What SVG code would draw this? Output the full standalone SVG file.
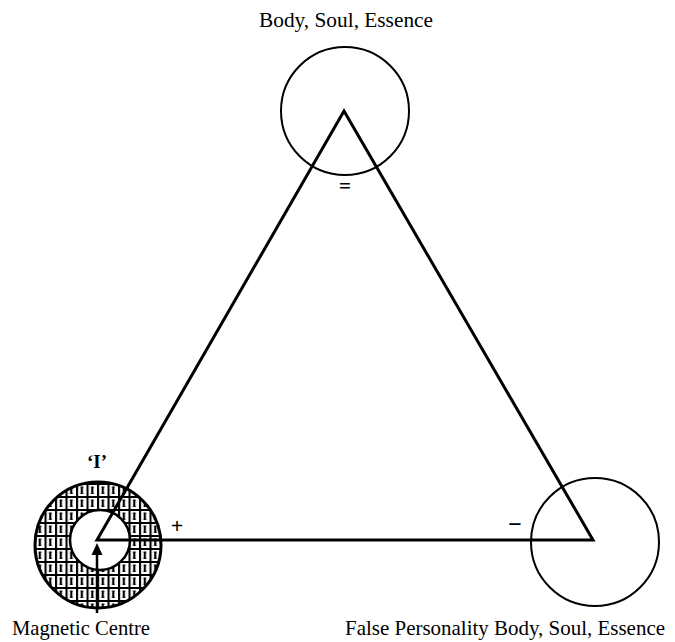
<svg xmlns="http://www.w3.org/2000/svg" width="675" height="642" viewBox="0 0 675 642">
<style>
.lbl{font-family:"Liberation Serif","Times New Roman",serif;font-size:21px;fill:#000}
.sym{font-family:"Liberation Serif","Times New Roman",serif;fill:#000;text-anchor:middle;font-weight:bold}
.circ{fill:none;stroke:#000;stroke-width:2}
.edge{stroke:#000;stroke-width:3;fill:none;stroke-linecap:round}
</style>
<defs>
<pattern id="hatch" patternUnits="userSpaceOnUse" x="34" y="483" width="10.5" height="13">
<rect width="10.5" height="13" fill="#fff"/>
<path d="M1 0V13M0 1H10.5" stroke="#000" stroke-width="2.2"/>
<path d="M5.8 4V10.5" stroke="#000" stroke-width="2.2"/>
<path d="M4.5 4.2H7.2M4.5 10.3H7.2" stroke="#000" stroke-width="1.2"/>
</pattern>
</defs>
<rect width="675" height="642" fill="#fff"/>

<g id="top-node">
<circle class="circ" cx="345" cy="111" r="64"/>
<text class="sym" x="345" y="193" font-size="21">=</text>
<text class="lbl" x="259" y="27" textLength="174" lengthAdjust="spacingAndGlyphs">Body, Soul, Essence</text>
</g>

<g id="magnetic-centre">
<circle cx="98" cy="545" r="63" fill="url(#hatch)" stroke="#000" stroke-width="3"/>
<circle cx="100" cy="540" r="30" fill="#fff" stroke="#000" stroke-width="2.5"/>
<text class="sym" x="97" y="468" font-size="19">‘I’</text>
<text class="lbl" x="12" y="635" textLength="138" lengthAdjust="spacingAndGlyphs">Magnetic Centre</text>
</g>

<g id="false-personality">
<circle class="circ" cx="595" cy="542" r="64"/>
<text class="lbl" x="345" y="635" textLength="320" lengthAdjust="spacingAndGlyphs">False Personality Body, Soul, Essence</text>
</g>

<g id="connectors">
<path class="edge" d="M97 540L344 111L593 540Z" stroke-linejoin="miter"/>
<path d="M97 613V555" stroke="#000" stroke-width="2.5"/>
<path d="M91.5 555L97 543L102.5 555Z" fill="#000"/>
<text class="sym" x="177" y="533" font-size="22">+</text>
<text class="sym" x="515" y="532" font-size="24">−</text>
</g>
</svg>
